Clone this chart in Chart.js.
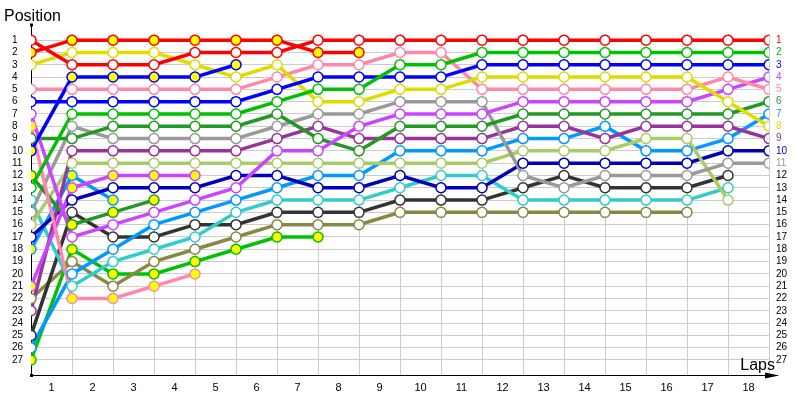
<!DOCTYPE html>
<html>
<head>
<meta charset="utf-8">
<script src="https://cdn.jsdelivr.net/npm/chart.js@4.4.1/dist/chart.umd.min.js"></script>
<style>
  html, body { margin: 0; padding: 0; background: #fff; }
  #wrap { width: 800px; height: 400px; position: relative; }
</style>
</head>
<body>
<div id="wrap"><canvas id="lapChart"></canvas></div>
<script>
// lap 0 is the grid, then one value per lap
const lapLabels = ['1','2','3','4','5','6','7','8','9','10','11','12','13','14','15','16','17','18'];
const posLabels = [1,2,3,4,5,6,7,8,9,10,11,12,13,14,15,16,17,18,19,20,21,22,23,24,25,26,27];

const redA       = [1,3,3,3,2,2,2,1,1,1,1,1,1,1,1,1,1,1,1];
const redB       = [2,1,1,1,1,1,1,2,2];
const yellow     = [3,2,2,2,3,4,3,6,6,5,5,4,4,4,4,4,4,6,8];
const pink       = [5,5,5,5,5,5,4,3,3,2,2,5,5,5,5,5,5,4,5];
const pinkOut    = [8,22,22,21,20];
const blue       = [6,6,6,6,6,6,5,4,4,4,4,3,3,3,3,3,3,3,3];
const blueOut    = [10,4,4,4,4,3];
const green      = [13,7,7,7,7,7,6,5,5,3,3,2,2,2,2,2,2,2,2];
const greenOut   = [27,18,20,20,19,18,17,17];
const darkGreen  = [9,9,8,8,8,8,7,9,10,8,8,8,7,7,7,7,7,7,6];
const darkGreenOut = [12,16,15,14];
const gray       = [15,8,9,9,9,9,8,7,7,6,6,6,12,13,12,12,12,11,11];
const purple     = [23,10,10,10,10,10,9,8,9,9,9,9,8,8,9,8,8,8,9];
const violet     = [7,17,16,15,14,13,10,10,8,7,7,7,6,6,6,6,6,5,4];
const violetOut  = [21,13,12,12,12];
const lightGreen = [16,11,11,11,11,11,11,11,11,11,11,11,10,10,10,9,9,14];
const navy       = [17,14,13,13,13,12,12,13,13,12,13,13,11,11,11,11,11,10,10];
const cyan       = [14,21,19,18,17,15,14,14,14,13,12,12,14,14,14,14,14,13];
const skyBlue    = [26,20,18,16,15,14,13,12,12,10,10,10,9,9,8,10,10,9,7];
const skyBlueOut = [18,12,14];
const charcoal   = [25,15,17,17,16,16,15,15,15,14,14,14,13,12,13,13,13,12];
const olive      = [22,19,21,19,18,17,16,16,16,15,15,15,15,15,15,15,15];

// [positions, colour, retired]
const series = [
    [redA, '#ff0000', false],
    [redB, '#ff0000', true],
    [green, '#00c000', false],
    [blue, '#0000ff', false],
    [blueOut, '#0000ff', true],
    [yellow, '#dddd00', false],
    [pink, '#ff88aa', false],
    [pinkOut, '#ff88aa', true],
    [violet, '#cc44ff', false],
    [violetOut, '#cc44ff', true],
    [darkGreen, '#229922', false],
    [darkGreenOut, '#229922', true],
    [gray, '#999999', false],
    [purple, '#993399', false],
    [lightGreen, '#aacc66', false],
    [navy, '#0000bb', false],
    [skyBlue, '#0099ff', false],
    [skyBlueOut, '#0099ff', true],
    [cyan, '#33cccc', false],
    [charcoal, '#333333', false],
    [olive, '#888844', false],
    [greenOut, '#00c000', true]
];

const toPoints = arr => arr.map((p, i) => ({ x: i, y: p }));

// colour of the right-hand labels = car finishing in that place
const finishColor = {};
series.forEach(([arr, color]) => {
    if (arr.length === lapLabels.length + 1) finishColor[arr[arr.length - 1]] = color;
});

const lineSets = series.map(([arr, color]) => ({
    data: toPoints(arr),
    borderColor: color,
    borderWidth: 3.5,
    pointRadius: 0,
    tension: 0,
    order: 2
}));
const markerSets = series.map(([arr, color, out]) => ({
    data: toPoints(arr),
    showLine: false,
    pointRadius: 5,
    pointBorderWidth: 1.5,
    pointBorderColor: color,
    pointBackgroundColor: out ? '#ffff00' : '#ffffff',
    order: 1
}));

const axisDecor = {
    id: 'axisDecor',
    beforeDatasetsDraw(chart) {
        const { ctx, chartArea: a } = chart;
        ctx.save();
        ctx.strokeStyle = '#000';
        ctx.lineWidth = 1;
        ctx.beginPath();
        ctx.moveTo(a.left + 0.5, 25);
        ctx.lineTo(a.left + 0.5, a.bottom + 0.5);
        ctx.lineTo(778, a.bottom + 0.5);
        ctx.stroke();
        ctx.fillStyle = '#000';
        ctx.beginPath();
        ctx.moveTo(779, a.bottom + 0.5);
        ctx.lineTo(765, a.bottom - 2.5);
        ctx.lineTo(765, a.bottom + 3.5);
        ctx.closePath();
        ctx.fill();
        ctx.fillRect(a.left - 1, 23.5, 3, 3);
        ctx.fillRect(a.left - 1, a.bottom - 1, 3, 3);
        ctx.restore();
    },
    afterDraw(chart) {
        const { ctx } = chart;
        ctx.save();
        ctx.fillStyle = '#000';
        ctx.font = '16px "Liberation Sans"';
        ctx.textBaseline = 'alphabetic';
        ctx.textAlign = 'left';
        ctx.fillText('Position', 4, 21);
        ctx.textAlign = 'right';
        ctx.fillText('Laps', 775, 370);
        ctx.restore();
    }
};

const posTicks = scale => { scale.ticks = posLabels.map(v => ({ value: v })); };

new Chart(document.getElementById('lapChart'), {
    type: 'line',
    data: { datasets: lineSets.concat(markerSets) },
    options: {
        responsive: true,
        maintainAspectRatio: false,
        animation: false,
        events: [],
        layout: { padding: { top: 34, left: 12, right: 0, bottom: 0 } },
        plugins: { legend: { display: false }, tooltip: { enabled: false } },
        scales: {
            x: {
                type: 'linear',
                min: 0,
                max: lapLabels.length,
                afterBuildTicks: s => { s.ticks = lapLabels.map((l, i) => ({ value: i + 1 })); },
                afterFit: s => { s.height = 25; },
                grid: { color: '#cccccc', drawTicks: false },
                border: { display: false },
                ticks: {
                    autoSkip: false,
                    maxRotation: 0,
                    labelOffset: -20.5,
                    padding: 6,
                    color: '#000',
                    font: { family: 'Liberation Sans', size: 11 },
                    callback: v => lapLabels[v - 1]
                }
            },
            y: {
                type: 'linear',
                position: 'left',
                reverse: true,
                min: 0.5,
                max: 28.22,
                afterBuildTicks: posTicks,
                afterFit: s => { s.width = 19; },
                grid: { color: '#cccccc', drawTicks: false },
                border: { display: false },
                ticks: {
                    autoSkip: false,
                    crossAlign: 'far',
                    color: '#000',
                    font: { family: 'Liberation Sans', size: 10 },
                    callback: v => String(v)
                }
            },
            y2: {
                type: 'linear',
                position: 'right',
                reverse: true,
                min: 0.5,
                max: 28.22,
                afterBuildTicks: posTicks,
                afterFit: s => { s.width = 31; },
                grid: { display: false, drawTicks: false },
                border: { display: false },
                ticks: {
                    autoSkip: false,
                    padding: 7,
                    color: c => finishColor[c.tick.value] || '#000',
                    font: { family: 'Liberation Sans', size: 10 },
                    callback: v => String(v)
                }
            }
        }
    },
    plugins: [axisDecor]
});
</script>
</body>
</html>
